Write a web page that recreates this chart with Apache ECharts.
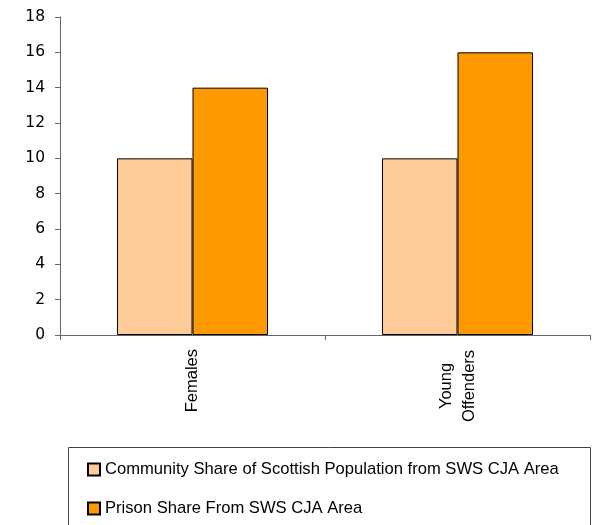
<!DOCTYPE html>
<html><head><meta charset="utf-8">
<script src="https://cdn.jsdelivr.net/npm/echarts@6/dist/echarts.min.js"></script>
<style>html,body{margin:0;padding:0;background:#fff}#c{width:592px;height:525px}</style>
</head><body><div id="c"></div>
<script>
const categories = ['Females', 'Young\nOffenders'];
const communityShare = [10, 10];
const prisonShare = [14, 16];
const seriesNames = ['Community Share of Scottish Population from SWS CJA Area', 'Prison Share From SWS CJA Area'];

const chart = echarts.init(document.getElementById('c'), null, {renderer: 'canvas'});
chart.setOption({
  animation: false,
  backgroundColor: '#fff',
  grid: {left: 60, right: 2, top: 17, bottom: 190, containLabel: false},
  legend: {
    orient: 'vertical', left: 82, top: 456, itemWidth: 12, itemHeight: 12, itemGap: 22,
    icon: 'rect',
    textStyle: {fontFamily: 'Liberation Sans', fontSize: 16.6, color: '#000'},
    data: seriesNames
  },
  graphic: [{type: 'rect', shape: {x: 68.5, y: 447.5, width: 522, height: 80}, style: {fill: 'none', stroke: '#444', lineWidth: 1}}],
  xAxis: {
    type: 'category', data: categories,
    axisLine: {lineStyle: {color: '#666', width: 1}},
    axisTick: {show: true, alignWithLabel: false, length: 5, lineStyle: {color: '#666'}},
    axisLabel: {
      rotate: 90, fontFamily: 'Liberation Sans', fontSize: 16.5, color: '#000', margin: 14,
      formatter: function (v) {
        const lines = v.split('\n');
        if (lines.length === 1) return v;
        return lines.map(l => '{c|' + l + '}').join('\n');
      },
      rich: {c: {fontFamily: 'Liberation Sans', fontSize: 16.5, color: '#000', lineHeight: 23, width: 74, align: 'center'}}
    }
  },
  yAxis: {
    type: 'value', min: 0, max: 18, interval: 2,
    axisLine: {show: true, lineStyle: {color: '#666', width: 1}},
    axisTick: {show: true, length: 5, lineStyle: {color: '#666'}},
    splitLine: {show: false},
    axisLabel: {fontFamily: 'DejaVu Sans', fontSize: 15.5, color: '#000', margin: 15}
  },
  series: [
    {name: seriesNames[0], type: 'bar', data: communityShare, barGap: '0%', barCategoryGap: '43%',
     itemStyle: {color: '#FFCC99', borderColor: '#000', borderWidth: 1}},
    {name: seriesNames[1], type: 'bar', data: prisonShare, barGap: '0%', barCategoryGap: '43%',
     itemStyle: {color: '#FF9900', borderColor: '#000', borderWidth: 1}}
  ]
});
</script></body></html>
